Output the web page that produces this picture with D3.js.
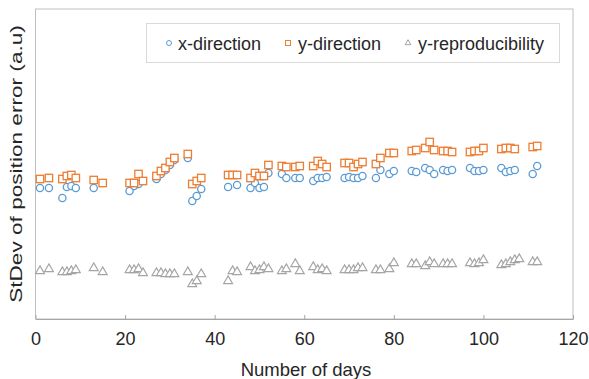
<!DOCTYPE html>
<html>
<head>
<meta charset="utf-8">
<script src="https://cdn.jsdelivr.net/npm/d3@7"></script>
<style>
  body { margin: 0; background: #fff; }
  text { font-family: "Liberation Sans", Arial, sans-serif; fill: #262626; }
</style>
</head>
<body>
<div id="chart"></div>
<script>
// days of measurement
var days = [1, 3, 6, 7, 8, 9, 13, 15, 21, 22, 23, 24, 27, 28, 29, 30, 31, 34, 35, 36, 37,
  43, 44, 45, 48, 49, 50, 51, 52, 55, 56, 58, 59, 62, 63, 64, 65, 69, 70, 71, 72, 73,
  76, 77, 79, 80, 84, 85, 87, 88, 89, 91, 92, 93, 97, 98, 99, 100, 104, 105, 106, 107, 108, 111, 112];

var xDir = [1.31, 1.31, 1.21, 1.32, 1.33, 1.31, 1.31, null, 1.28, 1.33, 1.35, null, 1.40, 1.45, 1.49, 1.54, 1.59, 1.61, 1.18, 1.23, 1.30,
  1.32, null, 1.34, 1.31, 1.36, 1.31, 1.32, 1.46, 1.45, 1.41, 1.41, 1.41, 1.38, 1.41, 1.41, 1.42, 1.41, 1.42, 1.41, 1.41, 1.43,
  1.41, 1.49, 1.45, 1.48, 1.48, 1.47, 1.51, 1.49, 1.45, 1.49, 1.48, 1.49, 1.51, 1.48, 1.48, 1.49, 1.51, 1.47, 1.48, 1.49, null, 1.45, 1.53];

var yDir = [1.40, 1.41, 1.40, 1.43, 1.44, 1.41, 1.39, 1.36, 1.36, 1.36, 1.45, 1.38, 1.43, 1.48, 1.51, 1.57, 1.61, 1.65, 1.35, 1.38, 1.41,
  1.44, 1.44, 1.44, 1.41, 1.46, 1.43, 1.43, 1.54, 1.53, 1.52, 1.52, 1.53, 1.53, 1.58, 1.55, 1.52, 1.56, 1.56, 1.52, 1.55, 1.57,
  1.55, 1.61, 1.66, 1.66, 1.68, 1.69, 1.71, 1.77, 1.69, 1.68, 1.68, 1.67, 1.67, 1.68, 1.68, 1.71, 1.70, 1.71, 1.71, 1.70, null, 1.72, 1.73];

var yRep = [0.48, 0.50, 0.47, 0.47, 0.48, 0.49, 0.51, 0.47, 0.49, 0.49, 0.50, 0.46, 0.46, 0.46, 0.45, 0.45, 0.45, 0.47, 0.35, 0.38, 0.45,
  0.38, 0.48, 0.47, 0.52, 0.48, 0.49, 0.52, 0.50, 0.48, 0.50, 0.55, 0.48, 0.52, 0.49, 0.50, 0.48, 0.49, 0.49, 0.49, 0.51, 0.51,
  0.49, 0.49, 0.50, 0.56, 0.55, 0.55, 0.53, 0.57, 0.55, 0.55, 0.55, 0.55, 0.56, 0.55, 0.56, 0.59, 0.54, 0.55, 0.57, 0.59, 0.60, 0.57, 0.57];

var xTicks = [0, 20, 40, 60, 80, 100, 120];

var width = 589, height = 379;
var plotLeft = 35.5, plotRight = 573, plotTop = 9, plotBottom = 319;

var svg = d3.select('#chart').append('svg')
  .attr('width', width)
  .attr('height', height);

var x = d3.scaleLinear().domain([0, 120]).range([plotLeft, plotRight]);
var y = d3.scaleLinear().domain([0, 3.1]).range([plotBottom, plotTop]);

//plot area frame
svg.append('rect')
  .attr('x', plotLeft).attr('y', plotTop)
  .attr('width', plotRight - plotLeft).attr('height', plotBottom - plotTop)
  .attr('fill', 'none')
  .attr('stroke', '#bfbfbf')
  .attr('stroke-width', 1);

//x axis with inward ticks
var xAxis = svg.append('g')
  .attr('transform', 'translate(0,' + plotBottom + ')')
  .call(d3.axisBottom(x).tickValues(xTicks).tickSizeInner(-4).tickSizeOuter(0).tickPadding(13));
xAxis.select('.domain').attr('stroke', '#a6a6a6');
xAxis.selectAll('.tick line').attr('stroke', '#a6a6a6');
xAxis.selectAll('.tick text')
  .attr('font-size', 18)
  .attr('font-family', '"Liberation Sans", Arial, sans-serif')
  .attr('fill', '#262626');

//axis titles
svg.append('text')
  .attr('x', 306)
  .attr('y', 376)
  .attr('text-anchor', 'middle')
  .attr('font-size', 18.5)
  .text('Number of days');

svg.append('text')
  .attr('transform', 'translate(22,164) rotate(-90) scale(1.33,1)')
  .attr('text-anchor', 'middle')
  .attr('font-size', 17)
  .text('StDev of position error (a.u)');

var blue = '#5b9bd5', orange = '#ed7d31', gray = '#a5a5a5';

function pts(vals) {
  return days.map(function(d, i) { return { day: d, v: vals[i] }; })
    .filter(function(d) { return d.v != null; });
}

var g = svg.append('g');

//x-direction circles
g.selectAll('.xdir')
  .data(pts(xDir))
  .enter().append('circle')
  .attr('class', 'xdir')
  .attr('cx', function(d) { return x(d.day); })
  .attr('cy', function(d) { return y(d.v); })
  .attr('r', 3.6)
  .attr('fill', '#fff')
  .attr('stroke', blue)
  .attr('stroke-width', 1.3);

//y-direction squares
g.selectAll('.ydir')
  .data(pts(yDir))
  .enter().append('rect')
  .attr('class', 'ydir')
  .attr('x', function(d) { return x(d.day) - 3.7; })
  .attr('y', function(d) { return y(d.v) - 3.7; })
  .attr('width', 7.4)
  .attr('height', 7.4)
  .attr('fill', '#fff')
  .attr('stroke', orange)
  .attr('stroke-width', 1.3);

//reproducibility triangles
var tri = d3.symbol().type(d3.symbolTriangle).size(34);
g.selectAll('.yrep')
  .data(pts(yRep))
  .enter().append('path')
  .attr('class', 'yrep')
  .attr('d', tri)
  .attr('transform', function(d) { return 'translate(' + x(d.day) + ',' + y(d.v) + ')'; })
  .attr('fill', '#fff')
  .attr('stroke', gray)
  .attr('stroke-width', 1.2);

//legend
var legend = svg.append('g');
legend.append('rect')
  .attr('x', 146.5).attr('y', 23.5)
  .attr('width', 413).attr('height', 39)
  .attr('fill', '#fff')
  .attr('stroke', '#d9d9d9');

var items = [
  { label: 'x-direction', color: blue, shape: 'circle', mx: 169, tx: 178 },
  { label: 'y-direction', color: orange, shape: 'square', mx: 288, tx: 298 },
  { label: 'y-reproducibility', color: gray, shape: 'triangle', mx: 408, tx: 418 }
];
items.forEach(function(it) {
  if (it.shape == 'circle') {
    legend.append('circle').attr('cx', it.mx).attr('cy', 43).attr('r', 2.5)
      .attr('fill', '#fff').attr('stroke', it.color).attr('stroke-width', 1);
  } else if (it.shape == 'square') {
    legend.append('rect').attr('x', it.mx - 2.5).attr('y', 40.5).attr('width', 5).attr('height', 5)
      .attr('fill', '#fff').attr('stroke', it.color).attr('stroke-width', 1);
  } else {
    legend.append('path').attr('d', d3.symbol().type(d3.symbolTriangle).size(14))
      .attr('transform', 'translate(' + it.mx + ',43)')
      .attr('fill', '#fff').attr('stroke', it.color).attr('stroke-width', 1);
  }
  legend.append('text')
    .attr('x', it.tx).attr('y', 49.5)
    .attr('font-size', 18)
    .text(it.label);
});
</script>
</body>
</html>
